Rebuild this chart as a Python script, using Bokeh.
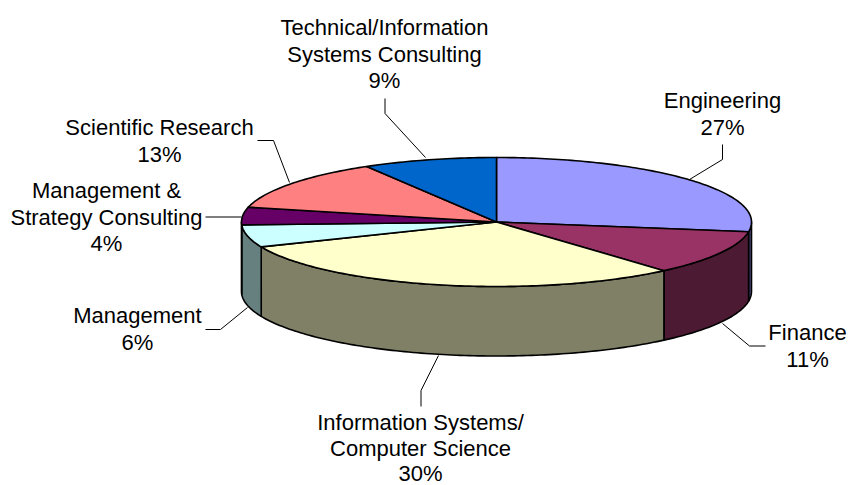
import math
from bokeh.plotting import figure
from bokeh.models import Range1d
from bokeh.core.properties import value
from bokeh.embed import file_html
from bokeh.resources import INLINE

names = ["Engineering", "Finance", "Information Systems/\nComputer Science", "Management",
         "Management &\nStrategy Consulting", "Scientific Research",
         "Technical/Information\nSystems Consulting"]
shares = [27.4, 11.2, 30.1, 5.6, 4.4, 12.8, 8.5]
percent_labels = ["27%", "11%", "30%", "6%", "4%", "13%", "9%"]
top_colors = ["#9999FF", "#993366", "#FFFFCC", "#CCFFFF", "#660066", "#FF8080", "#0066CC"]
side_colors = ["#4D4D80", "#4D1A33", "#808066", "#668080", "#330033", "#804040", "#003366"]

W, H = 848, 485
CX, CY, RX, RY, DEPTH = 496, 221.5, 255, 64.5, 69.5


def pt(theta):
    r = math.radians(theta)
    return CX + RX * math.sin(r), CY + RY * -math.cos(r)


def arc(a, b):
    n = max(2, int(abs(b - a)) + 1)
    return [pt(a + (b - a) * i / (n - 1)) for i in range(n)]


p = figure(width=W, height=H, output_backend="svg", toolbar_location=None,
           x_range=Range1d(0, W), y_range=Range1d(H, 0),
           min_border=0, outline_line_color=None)
p.axis.visible = False
p.grid.visible = False

edges = [0.0]
for s in shares:
    edges.append(edges[-1] + s / sum(shares) * 360)

# rim
for i in range(len(shares)):
    a, b = max(edges[i], 90), min(edges[i + 1], 270)
    if a >= b:
        continue
    top = arc(a, b)
    xs = [q[0] for q in top] + [q[0] for q in reversed(top)]
    ys = [q[1] for q in top] + [q[1] + DEPTH for q in reversed(top)]
    p.patch(xs, ys, fill_color=side_colors[i], line_color="black", line_width=1.6, line_join="round")

# top faces
for i in range(len(shares)):
    rim = arc(edges[i], edges[i + 1])
    xs = [CX] + [q[0] for q in rim]
    ys = [CY] + [q[1] for q in rim]
    p.patch(xs, ys, fill_color=top_colors[i], line_color="black", line_width=1.6, line_join="round")

# leader lines, in page pixels
leaders = [
    ([689, 722, 722], [179, 159, 144]),
    ([722, 749, 765], [323, 345.5, 345.5]),
    ([438, 420.5, 420.5], [355, 390, 406]),
    ([247, 220, 205], [307, 329, 329]),
    ([241, 205], [216.5, 216.5]),
    ([289, 273, 257], [182, 140, 140]),
    ([425, 384.5, 384.5], [157, 113, 98]),
]
for xs, ys in leaders:
    p.line(xs, ys, line_color="black", line_width=1)

# labels: centre x, first-line centre y, line step
anchors = [(722, 100, 26.5), (807, 332, 26.5), (420, 422, 25.5), (137, 315, 26.5),
           (106, 190, 26.5), (159, 127, 26.5), (384, 27, 26.5)]
for name, pct, (ax, ay, lh) in zip(names, percent_labels, anchors):
    for j, line in enumerate(name.split("\n") + [pct]):
        p.text([ax], [ay + j * lh], text=[line], text_align="center", text_baseline="middle",
               text_font=value("Liberation Sans"), text_font_size="22px", text_color="black")

open("out.html", "w").write(file_html(p, INLINE))
